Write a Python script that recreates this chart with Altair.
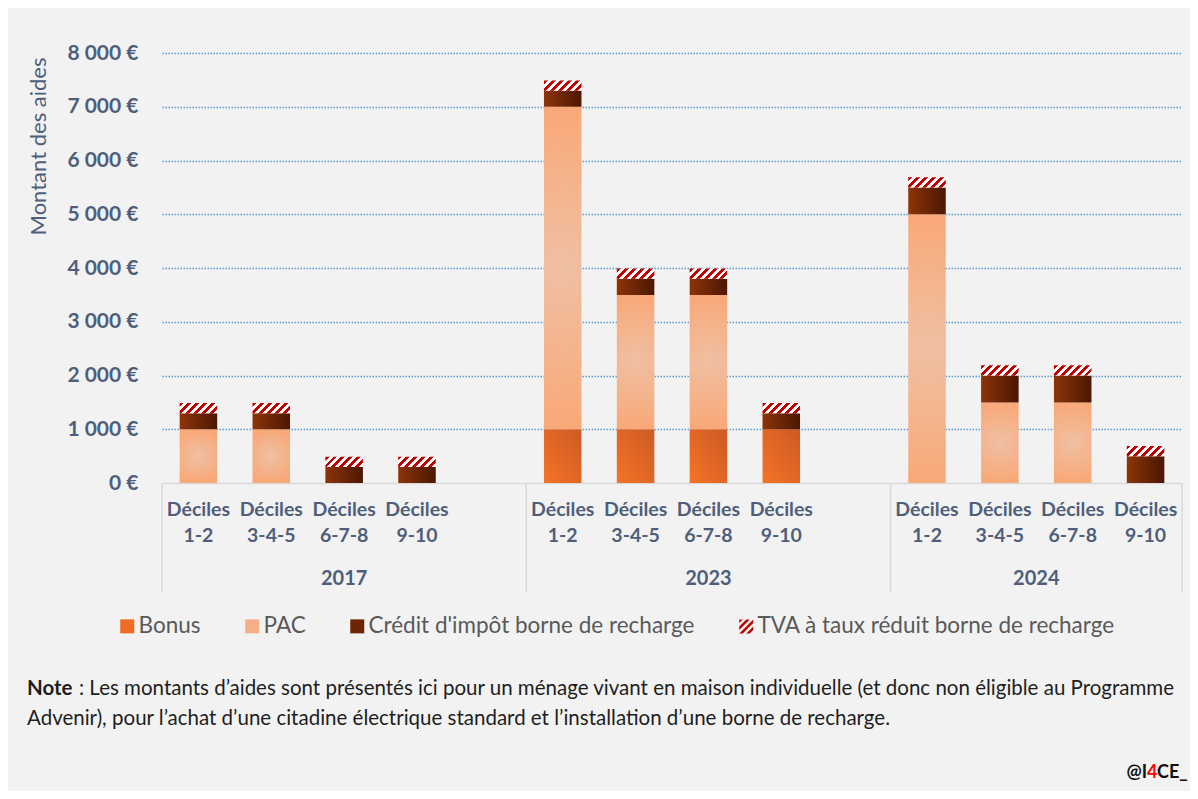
import altair as alt
import pandas as pd

# ---------------- data ----------------
years = ["2017", "2023", "2024"]
deciles = ["1-2", "3-4-5", "6-7-8", "9-10"]
gap_after = ["2017", "2023"]
series = ["Bonus", "PAC", "Crédit d'impôt borne de recharge",
          "TVA à taux réduit borne de recharge"]
# one value per (year, decile) bar, in order 2017 x4, 2023 x4, 2024 x4
bonus  = [0, 0, 0, 0,        1000, 1000, 1000, 1000,  0, 0, 0, 0]
pac    = [1000, 1000, 0, 0,  6000, 2500, 2500, 0,     5000, 1500, 1500, 0]
credit = [300, 300, 300, 300, 300, 300, 300, 300,     500, 500, 500, 500]
tva    = [190, 190, 190, 190, 190, 190, 190, 190,     190, 190, 190, 190]
y_ticks = [0, 1000, 2000, 3000, 4000, 5000, 6000, 7000, 8000]
y_title = "Montant des aides"
decile_word = "Déciles"
note_bold = "Note"
note_line1 = ": Les montants d’aides sont présentés ici pour un ménage vivant en maison individuelle (et donc non éligible au Programme"
note_line2 = "Advenir), pour l’achat d’une citadine électrique standard et l’installation d’une borne de recharge."
credit_parts = ["@I", "4", "CE_"]

# ---------------- build tables ----------------
slots, group_sizes = [], []
for yr in years:
    s = [f"{yr}|{d}" for d in deciles]
    if yr in gap_after:
        s.append(f"{yr}|gap")
    slots += s
    group_sizes.append(len(s))
n_slots = len(slots)
bounds = [0]
for g in group_sizes:
    bounds.append(bounds[-1] + g)
centers = [bounds[i] + group_sizes[i] / 2 for i in range(len(years))]

rows = []
k = 0
for yr in years:
    for d in deciles:
        base = 0
        for s, vals in zip(series, [bonus, pac, credit, tva]):
            v = vals[k]
            if v > 0:
                rows.append({"slot": f"{yr}|{d}", "series": s, "y0": base, "y1": base + v})
                base += v
        k += 1
df = pd.DataFrame(rows)

# ---------------- style ----------------
W, H = 1020, 430
slate = "#4F5F7B"
FONT = "Lato"
p_inner = 0.485
step = W / n_slots
bar_w = step * (1 - p_inner)
tva_h = tva[0] * H / 8000
r = tva_h / bar_w
a = (1 + r) / (1 + r * r)
n_per = 6
stops = []
for i in range(n_per):
    stops += [{"offset": i / n_per, "color": "#C00000"},
              {"offset": (i + 0.5) / n_per, "color": "#C00000"},
              {"offset": (i + 0.5) / n_per, "color": "#FFFFFF"},
              {"offset": (i + 1) / n_per, "color": "#FFFFFF"}]

fills = [
    {"gradient": "linear", "x1": 0, "y1": 1, "x2": 1, "y2": 0,
     "stops": [{"offset": 0, "color": "#F57326"}, {"offset": 1, "color": "#CC5A25"}]},
    {"gradient": "radial", "x1": 0.5, "y1": 0.5, "x2": 0.5, "y2": 0.5, "r1": 0, "r2": 0.5,
     "stops": [{"offset": 0, "color": "#EFC0A3"}, {"offset": 1, "color": "#F9A878"}]},
    {"gradient": "linear", "x1": 0, "y1": 0, "x2": 1, "y2": 0,
     "stops": [{"offset": 0, "color": "#8C3409"}, {"offset": 1, "color": "#4C1702"}]},
    {"gradient": "linear", "x1": 0, "y1": 0, "x2": a, "y2": a * r, "stops": stops},
]
legend_colors = ["#EE6A25", "#F6AE87", "#6E2506", "#C00000"]


def clip(poly, f):
    out = []
    for i in range(len(poly)):
        p, q = poly[i], poly[(i + 1) % len(poly)]
        fp, fq = f(p), f(q)
        if fp >= 0:
            out.append(p)
        if (fp >= 0) != (fq >= 0):
            t = fp / (fp - fq)
            out.append((p[0] + t * (q[0] - p[0]), p[1] + t * (q[1] - p[1])))
    return out


square = [(-1, -1), (1, -1), (1, 1), (-1, 1)]
hatch_path = ""
c = -2.0
while c < 2:
    lo, hi = c, c + 0.5
    poly = clip(square, lambda p, lo=lo: p[0] + p[1] - lo)
    poly = clip(poly, lambda p, hi=hi: hi - (p[0] + p[1]))
    if len(poly) >= 3:
        hatch_path += "M" + "L".join(f"{x:.3f},{y:.3f}" for x, y in poly) + "Z"
    c += 1.0
shapes = ["square", "square", "square", hatch_path]

# ---------------- encodings ----------------
x_enc = alt.X(
    "slot:N",
    scale=alt.Scale(domain=slots, paddingInner=p_inner, paddingOuter=p_inner / 2),
    axis=alt.Axis(
        title=None, labelAngle=0, ticks=False, grid=False,
        labelExpr=f"split(datum.value, '|')[1] == 'gap' ? '' : ['{decile_word}', split(datum.value, '|')[1]]",
        labelFont=FONT, labelFontWeight="bold", labelFontSize=19.5, labelColor=slate,
        labelLineHeight=26, labelPadding=17, labelBaseline="top",
        domainColor="#D9D9D9", domainWidth=1.5,
    ),
)
y_enc = alt.Y(
    "y1:Q",
    scale=alt.Scale(domain=[0, 8000], nice=False),
    axis=alt.Axis(
        values=y_ticks, ticks=False, domain=False, grid=True,
        gridColor="#5B9BD5", gridDash=[1.5, 1.5], gridWidth=1.5,
        gridOpacity={"condition": {"test": "datum.value === 0", "value": 0}, "value": 1},
        labelExpr="replace(format(datum.value, ','), ',', ' ') + ' €'",
        labelFont=FONT, labelFontWeight="bold", labelFontSize=21, labelColor=slate,
        labelPadding=24,
        title=y_title, titleFont=FONT, titleFontSize=22, titleFontWeight="normal",
        titleColor=slate, titleAngle=270, titleX=-117, titleY=93,
        titleAlign="center", titleBaseline="alphabetic",
    ),
)

bar_layers = []
for s, f in zip(series, fills):
    bar_layers.append(
        alt.Chart(df).transform_filter(alt.datum.series == s)
        .mark_bar(fill=f)
        .encode(x=x_enc, y=y_enc, y2="y0:Q")
    )

leg = dict(title=None, orient="none", legendX=-46, legendY=562, direction="horizontal",
           labelFont=FONT, labelFontSize=22.5, labelColor="#595959", symbolSize=196,
           columnPadding=40, labelOffset=0, padding=0, symbolStrokeWidth=0,
           labelLimit=2000)
legend_layer = (
    alt.Chart(df).transform_filter("false")
    .mark_point(filled=True, opacity=1, size=196)
    .encode(
        x=x_enc, y=y_enc,
        color=alt.Color("series:N", scale=alt.Scale(domain=series, range=legend_colors),
                        legend=alt.Legend(**leg)),
        shape=alt.Shape("series:N", scale=alt.Scale(domain=series, range=shapes),
                        legend=alt.Legend(**leg)),
    )
)

inner = alt.layer(*bar_layers, legend_layer)

pos_scale = alt.Scale(domain=[0, n_slots], nice=False, zero=True)
rules = (
    alt.Chart(pd.DataFrame({"pos": bounds}))
    .mark_rule(color="#D9D9D9", strokeWidth=1.5)
    .encode(x=alt.X("pos:Q", scale=pos_scale, axis=None),
            y=alt.value(H), y2=alt.value(H + 109))
)
year_text = (
    alt.Chart(pd.DataFrame({"pos": centers, "year": years}))
    .mark_text(font=FONT, fontWeight="bold", fontSize=20, color=slate, baseline="middle")
    .encode(x=alt.X("pos:Q", scale=pos_scale, axis=None), y=alt.value(H + 96), text="year:N")
)

one = pd.DataFrame({"k": [0]})


def txt(t, x, y, **kw):
    return alt.Chart(one).mark_text(text=t, baseline="middle", font=FONT, **kw).encode(
        x=alt.value(x), y=alt.value(y))


NS = 20.5
notes = [
    txt(note_bold, -135, 636, align="left", fontSize=NS, fontWeight="bold", color="#1E1E1E"),
    txt(note_line1, -83, 636, align="left", fontSize=NS, color="#1E1E1E"),
    txt(note_line2, -135, 666, align="left", fontSize=NS, color="#1E1E1E"),
    txt(credit_parts[0], 985, 720, align="right", fontSize=18, fontWeight="bold", color="#111111"),
    txt(credit_parts[1], 985, 720, align="left", fontSize=18, fontWeight="bold", color="#FF0000"),
    txt(credit_parts[2], 995, 720, align="left", fontSize=18, fontWeight="bold", color="#111111"),
]

chart = (
    alt.layer(inner, rules, year_text, *notes)
    .resolve_scale(x="independent")
    .properties(width=W, height=H,
                padding={"left": 154, "top": 45, "right": 8, "bottom": 308},
                autosize=alt.AutoSizeParams(type="none"))
    .configure(background="#F2F2F2")
    .configure_view(strokeWidth=0)
)

chart.save("out.html", embed_options={"renderer": "svg", "actions": False})
